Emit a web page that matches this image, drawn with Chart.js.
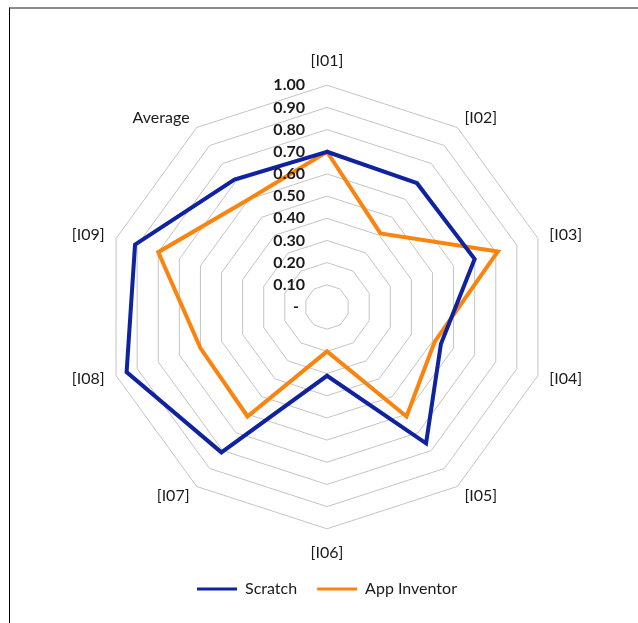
<!DOCTYPE html>
<html>
<head>
<meta charset="utf-8">
<script src="https://cdn.jsdelivr.net/npm/chart.js@4"></script>
<style>
  html, body { margin: 0; padding: 0; background: #fff; }
  #frame { position: absolute; left: 9px; top: 7px; right: 0; bottom: 0; border-top: 2px solid #8c8c8c; border-left: 1px solid #000; }
  #wrap { position: absolute; left: 0; top: 0; width: 638px; height: 623px; }
</style>
</head>
<body>
<div id="frame"></div>
<div id="wrap"><canvas id="radar"></canvas></div>

<script>
const categories = ['[I01]', '[I02]', '[I03]', '[I04]', '[I05]', '[I06]', '[I07]', '[I08]', '[I09]', 'Average'];
const scratch = [0.70, 0.69, 0.70, 0.54, 0.76, 0.31, 0.81, 0.95, 0.91, 0.71];
const appInventor = [0.70, 0.41, 0.81, 0.51, 0.61, 0.20, 0.61, 0.60, 0.80, 0.60];
const tickLabels = ['-', '0.10', '0.20', '0.30', '0.40', '0.50', '0.60', '0.70', '0.80', '0.90', '1.00'];

const FONT = 'Lato, "Open Sans", sans-serif';
const LABEL_SIZE = 16;

// Excel puts the value labels left of the vertical axis, so draw them ourselves
const tickLabelPlugin = {
    id: 'tickLabels',
    afterDatasetsDraw(chart) {
        const scale = chart.scales.r;
        const ctx = chart.ctx;
        ctx.save();
        ctx.font = 'bold 16px ' + FONT;
        ctx.fillStyle = '#1a1a1a';
        ctx.textBaseline = 'middle';
        scale.ticks.forEach((tick, i) => {
            const y = scale.yCenter - scale.getDistanceFromCenterForValue(tick.value);
            if (i === 0) {
                ctx.textAlign = 'center';
                ctx.fillText(tickLabels[i], scale.xCenter - 31, y);
            } else {
                ctx.textAlign = 'right';
                ctx.fillText(tickLabels[i], scale.xCenter - 22, y);
            }
        });
        ctx.restore();
    }
};

// side labels are centred on their spoke in Excel, not hung above/below it
const centerLabelsPlugin = {
    id: 'centerLabels',
    afterLayout(chart) {
        const scale = chart.scales.r;
        const items = scale._pointLabelItems;
        if (!items) return;
        const lh = LABEL_SIZE * 1.2;
        const pad = scale.options.pointLabels.padding;
        items.forEach((item, i) => {
            const n = items.length;
            if (i === 0) { item.y -= 3; return; }
            if (i === n / 2) { item.y += 2; return; }
            const p = scale.getPointPosition(i, scale.drawingArea + pad);
            item.y = p.y - lh / 2;
        });
    }
};

new Chart(document.getElementById('radar'), {
    type: 'radar',
    data: {
        labels: categories,
        datasets: [{
            label: 'Scratch',
            data: scratch,
            borderColor: '#0f22a0',
            backgroundColor: '#0f22a0',
            borderWidth: 4,
            pointRadius: 0,
            fill: false
        }, {
            label: 'App Inventor',
            data: appInventor,
            borderColor: '#fb8410',
            backgroundColor: '#fb8410',
            borderWidth: 4,
            pointRadius: 0,
            fill: false
        }]
    },
    options: {
        responsive: true,
        maintainAspectRatio: false,
        animation: false,
        layout: { padding: { top: 55, bottom: 16, left: 16, right: 0 } },
        elements: { line: { tension: 0, borderJoinStyle: 'miter' } },
        scales: {
            r: {
                min: 0,
                max: 1,
                ticks: { stepSize: 0.1, display: false },
                grid: { color: '#c4c4c4', lineWidth: 1 },
                angleLines: { display: false },
                pointLabels: {
                    padding: 12,
                    color: '#1a1a1a',
                    font: { family: FONT, size: LABEL_SIZE }
                }
            }
        },
        plugins: {
            tooltip: { enabled: false },
            legend: {
                position: 'bottom',
                labels: {
                    boxWidth: 40,
                    boxHeight: 3,
                    padding: 20,
                    color: '#1a1a1a',
                    font: { family: FONT, size: 16 },
                    generateLabels(chart) {
                        return Chart.defaults.plugins.legend.labels.generateLabels(chart).map(item => {
                            item.lineWidth = 0;
                            return item;
                        });
                    }
                }
            }
        }
    },
    plugins: [tickLabelPlugin, centerLabelsPlugin]
});
</script>
</body>
</html>
